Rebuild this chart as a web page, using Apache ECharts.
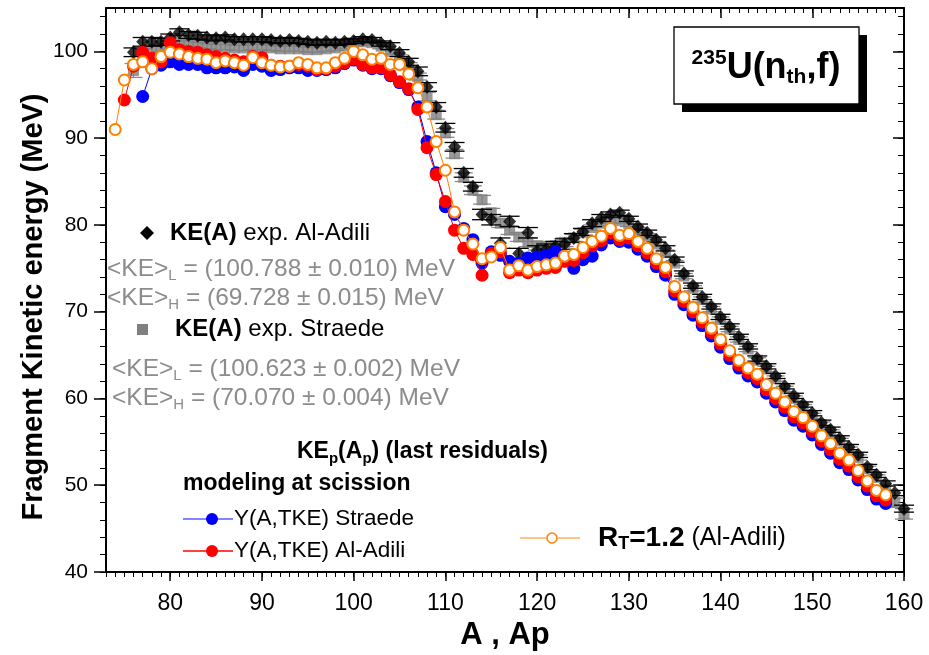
<!DOCTYPE html>
<html><head><meta charset="utf-8">
<script src="https://cdn.jsdelivr.net/npm/echarts@6/dist/echarts.min.js"></script>
<style>html,body{margin:0;padding:0;background:#fff}#c{width:929px;height:655px}</style>
</head><body><div id="c"></div>
<script>
// ---- data ----
const startAl = 76;   // first mass number of Al-Adili exp. KE(A)
const keAlAdili = [99.9,101.1,101.1,101.1,101.6,102.2,101.9,101.8,
 101.6,101.5,101.6,101.4,101.4,101.4,101.4,101.3,101.2,101.3,
 101.2,101.1,101.0,101.1,101.0,101.1,101.2,101.4,101.3,100.9,
 100.6,99.8,98.8,97.7,95.9,93.6,91.2,89.0,86.0,84.4,
 81.2,80.6,77.9,80.4,76.7,79.1,77.0,77.2,77.5,77.8,
 78.5,79.2,80.2,80.8,81.2,81.4,80.7,79.8,79.1,78.3,
 77.3,76.0,74.4,73.0,71.7,70.6,69.4,68.3,67.1,66.0,
 64.6,63.7,62.6,61.4,60.3,59.3,58.3,57.2,56.4,55.4,
 54.4,53.5,52.1,51.2,50.2,49.1,47.3];
const errAlAdili = [0.5,0.5,0.5,0.4,0.4,0.4,0.4,0.4,
 0.3,0.3,0.3,0.3,0.3,0.3,0.3,0.3,0.3,0.3,
 0.3,0.3,0.3,0.3,0.3,0.3,0.3,0.3,0.3,0.3,
 0.4,0.4,0.4,0.5,0.5,0.5,0.5,0.5,0.5,0.5,
 0.6,0.6,0.6,0.6,0.6,0.6,0.6,0.6,0.6,0.6,
 0.5,0.4,0.4,0.4,0.3,0.3,0.3,0.3,0.3,0.3,
 0.3,0.3,0.3,0.3,0.3,0.3,0.3,0.3,0.3,0.3,
 0.3,0.3,0.3,0.3,0.3,0.3,0.3,0.3,0.3,0.3,
 0.3,0.3,0.3,0.3,0.3,0.3,0.4];
const startSt = 76;   // Straede exp. KE(A)
const keStraede = [97.8,99.6,100.2,100.4,100.6,101.0,100.9,100.7,
 100.6,100.5,100.5,100.4,100.4,100.5,100.5,100.4,100.3,100.3,
 100.3,100.2,100.2,100.3,100.4,100.6,100.9,101.1,101.0,100.6,
 100.0,99.3,98.3,97.1,94.8,92.7,90.6,88.2,85.5,84.0,
 82.9,81.4,80.2,79.4,78.6,78.0,77.6,77.4,77.6,78.0,
 78.5,79.1,79.7,80.2,80.5,80.5,80.1,79.4,78.7,77.8,
 76.8,75.6,74.1,72.7,71.4,70.3,69.1,68.0,66.8,65.7,
 64.4,63.4,62.3,61.1,60.0,59.0,58.0,57.0,56.1,55.1,
 54.1,53.2,51.9,50.9,49.6,48.0,46.7];
const errStraede = [0.8,0.7,0.6,0.4,0.3,0.3,0.3,0.3,
 0.3,0.3,0.3,0.3,0.3,0.3,0.3,0.3,0.3,0.3,
 0.3,0.3,0.3,0.3,0.3,0.3,0.3,0.3,0.3,0.3,
 0.3,0.3,0.4,0.4,0.5,0.5,0.5,0.5,0.5,0.5,
 0.5,0.5,0.5,0.5,0.5,0.5,0.5,0.5,0.5,0.5,
 0.4,0.4,0.3,0.3,0.3,0.3,0.3,0.3,0.3,0.3,
 0.3,0.3,0.3,0.3,0.3,0.3,0.3,0.3,0.3,0.3,
 0.3,0.3,0.3,0.3,0.3,0.3,0.3,0.3,0.3,0.3,
 0.3,0.3,0.3,0.3,0.4,0.5,0.6];
const startBlue = 77;  // Y(A,TKE) Straede
const kepBlue = [94.8,98.0,98.4,98.8,98.5,98.5,98.5,
 98.1,98.1,98.1,98.2,97.8,98.5,98.3,97.8,97.9,98.1,
 98.1,97.8,97.8,97.9,98.1,98.6,99.0,98.4,98.0,98.0,
 97.2,96.4,95.6,93.6,89.6,86.0,82.1,81.2,79.6,78.3,
 75.6,76.9,76.5,75.8,75.6,76.2,76.3,76.5,76.9,76.3,
 75.0,76.0,76.4,77.7,78.5,78.1,78.0,77.2,76.4,75.2,
 74.2,72.0,70.8,69.6,68.4,67.2,65.9,64.6,63.5,62.6,
 61.9,60.6,59.6,58.6,57.5,56.8,55.8,54.7,53.7,52.6,
 51.8,50.6,49.5,48.4,47.9];
const startRed = 75;   // Y(A,TKE) Al-Adili
const kepRed = [94.4,98.3,99.9,99.2,98.8,101.0,100.2,100.0,99.9,
 99.6,99.4,99.2,99.0,98.8,99.4,99.3,98.4,98.3,98.3,
 98.5,98.3,97.9,98.0,98.3,98.7,99.1,98.5,98.1,98.1,
 97.3,96.5,95.7,93.3,88.9,85.8,82.7,79.4,77.3,76.6,
 74.2,76.7,76.9,74.5,74.8,74.5,74.8,75.0,75.1,75.8,
 75.9,76.8,77.6,78.2,79.1,78.3,78.5,77.6,76.8,75.6,
 74.6,72.4,71.2,70.0,68.8,67.6,66.3,65.0,63.9,63.0,
 62.3,61.0,60.0,59.0,57.9,57.2,56.2,55.1,54.1,53.0,
 52.2,51.0,49.9,48.8,48.3];
const startOrange = 74; // R_T = 1.2 (Al-Adili)
const kepOrange = [91.0,96.7,98.5,98.8,98.0,99.4,99.9,99.7,99.4,99.2,
 99.1,98.7,98.9,98.7,98.4,99.3,98.7,98.4,98.2,98.3,
 98.7,98.5,98.1,98.1,98.7,99.2,100.0,99.6,99.1,99.2,
 98.5,98.5,97.4,95.8,93.6,89.6,86.3,81.5,79.4,77.8,
 76.1,76.3,77.4,74.8,75.3,74.8,75.2,75.4,75.6,76.4,
 76.6,77.4,78.1,78.7,79.6,78.8,79.0,78.1,77.3,76.1,
 75.1,72.9,71.7,70.5,69.3,68.1,66.8,65.5,64.4,63.5,
 62.8,61.6,60.6,59.6,58.5,57.8,56.8,55.7,54.8,53.7,
 52.9,51.7,50.5,49.4,48.9];
const xTicks = [80,90,100,110,120,130,140,150,160];
const yTicks = [40,50,60,70,80,90,100];
const xRange = [73,160];
const yRange = [40,105];

// ---- helpers ----
function pairs(start, vals){ return vals.map((v,i)=>[start+i, v]); }
function triples(start, vals, errs){ return vals.map((v,i)=>[start+i, v, errs[i]]); }
const yMinor = []; for (let v=yRange[0]; v<yRange[1]; v+=2) yMinor.push(v);

const FONT = '"Liberation Sans", Arial, Helvetica, sans-serif';

function errItem(color, half){
  return function(params, api){
    const x = api.value(0), y = api.value(1), e = api.value(2);
    const hi = api.coord([x, y+e]), lo = api.coord([x, y-e]);
    const st = {stroke: color, lineWidth: 1.3};
    return {type:'group', children:[
      {type:'line', shape:{x1:hi[0],y1:hi[1],x2:lo[0],y2:lo[1]}, style:st},
      {type:'line', shape:{x1:hi[0]-half,y1:hi[1],x2:hi[0]+half,y2:hi[1]}, style:st},
      {type:'line', shape:{x1:lo[0]-half,y1:lo[1],x2:lo[0]+half,y2:lo[1]}, style:st}
    ]};
  };
}

const chart = echarts.init(document.getElementById('c'), null, {renderer:'canvas'});
const axisLineStyle = {color:'#000', width:2};
const baseX = {type:'value', min:xRange[0], max:xRange[1], splitLine:{show:false}, gridIndex:0};
const baseY = {type:'value', min:yRange[0], max:yRange[1], splitLine:{show:false}, gridIndex:0};
const GRAY = '#8c8c8c';
const kestyle = {a:{fontFamily:FONT, fontSize:24.5, fill:GRAY, lineHeight:28}, s:{fontFamily:FONT, fontSize:15, fill:GRAY, lineHeight:13, verticalAlign:'bottom'}};
const expstyle = {b:{fontFamily:FONT, fontWeight:'bold', fontSize:24, fill:'#000'}, n:{fontFamily:FONT, fontSize:24, fill:'#000'}};

const option = {
  animation:false,
  backgroundColor:'#fff',
  grid:{left:106, right:25, top:8, bottom:83, containLabel:false, outerBoundsMode:'none'},
  xAxis:[
    Object.assign({}, baseX, {position:'bottom', axisLine:{show:true, onZero:false, lineStyle:axisLineStyle},
      axisTick:{show:true, inside:false, length:9, customValues:xTicks, lineStyle:{color:'#000', width:1.5}},
      axisLabel:{show:true, customValues:xTicks, margin:20, color:'#000', fontFamily:FONT, fontSize:23},
      name:'A , Ap', nameLocation:'middle', nameGap:48,
      nameTextStyle:{color:'#000', fontFamily:FONT, fontWeight:'bold', fontSize:31}}),
    Object.assign({}, baseX, {position:'bottom', interval:1, axisLine:{show:false, onZero:false},
      axisTick:{show:true, inside:false, length:5, lineStyle:{color:'#000', width:1}}, axisLabel:{show:false}}),
    Object.assign({}, baseX, {position:'top', axisLine:{show:true, onZero:false, lineStyle:axisLineStyle},
      axisTick:{show:true, inside:true, length:10, customValues:xTicks, lineStyle:{color:'#000', width:1.5}},
      axisLabel:{show:false}}),
    Object.assign({}, baseX, {position:'top', interval:1, axisLine:{show:false, onZero:false},
      axisTick:{show:true, inside:true, length:5, lineStyle:{color:'#000', width:1}}, axisLabel:{show:false}})
  ],
  yAxis:[
    Object.assign({}, baseY, {position:'left', axisLine:{show:true, onZero:false, lineStyle:axisLineStyle},
      axisTick:{show:true, inside:false, length:12, customValues:yTicks, lineStyle:{color:'#000', width:1.5}},
      axisLabel:{show:true, customValues:yTicks, margin:18, color:'#000', fontFamily:FONT, fontSize:21}}),
    Object.assign({}, baseY, {position:'left', axisLine:{show:false, onZero:false},
      axisTick:{show:true, inside:false, length:6, customValues:yMinor, lineStyle:{color:'#000', width:1}}, axisLabel:{show:false}}),
    Object.assign({}, baseY, {position:'right', axisLine:{show:true, onZero:false, lineStyle:axisLineStyle},
      axisTick:{show:true, inside:true, length:11, customValues:yTicks, lineStyle:{color:'#000', width:1.5}},
      axisLabel:{show:false}}),
    Object.assign({}, baseY, {position:'right', axisLine:{show:false, onZero:false},
      axisTick:{show:true, inside:true, length:6, customValues:yMinor, lineStyle:{color:'#000', width:1}}, axisLabel:{show:false}})
  ],
  series:[
    {type:'custom', name:'errSt', xAxisIndex:0, yAxisIndex:0, renderItem:errItem('#8a8a8a', 9),
      data:triples(startSt, keStraede, errStraede), z:2, silent:true},
    {type:'scatter', name:'KE(A) exp. Straede', xAxisIndex:0, yAxisIndex:0, symbol:'rect', symbolSize:11,
      itemStyle:{color:'#808080'}, data:pairs(startSt, keStraede), z:2},
    {type:'custom', name:'errAl', xAxisIndex:0, yAxisIndex:0, renderItem:errItem('#000', 10),
      data:triples(startAl, keAlAdili, errAlAdili), z:3, silent:true},
    {type:'scatter', name:'KE(A) exp. Al-Adili', xAxisIndex:0, yAxisIndex:0, symbol:'diamond', symbolSize:[13,14],
      itemStyle:{color:'#000'}, data:pairs(startAl, keAlAdili), z:3},
    {type:'line', name:'Y(A,TKE) Straede', xAxisIndex:0, yAxisIndex:0, symbol:'circle', symbolSize:13, showAllSymbol:true,
      lineStyle:{color:'#0000ff', width:1}, itemStyle:{color:'#0000ff', borderWidth:0}, data:pairs(startBlue, kepBlue), z:4},
    {type:'line', name:'Y(A,TKE) Al-Adili', xAxisIndex:0, yAxisIndex:0, symbol:'circle', symbolSize:13, showAllSymbol:true,
      lineStyle:{color:'#ff0000', width:1}, itemStyle:{color:'#ff0000', borderWidth:0}, data:pairs(startRed, kepRed), z:5},
    {type:'line', name:'R_T=1.2', xAxisIndex:0, yAxisIndex:0, symbol:'circle', symbolSize:11, showAllSymbol:true,
      lineStyle:{color:'#ff8000', width:1}, itemStyle:{color:'#fff', borderColor:'#ff8000', borderWidth:2}, data:pairs(startOrange, kepOrange), z:6}
  ],
  graphic:[
    // y-axis title
    {type:'text', x:34, y:307, rotation:Math.PI/2, z:10, style:{text:'Fragment Kinetic energy (MeV)', align:'center', verticalAlign:'middle',
      fontFamily:FONT, fontWeight:'bold', fontSize:29, fill:'#000'}},
    // 235U(nth,f) box with shadow
    {type:'rect', shape:{x:682, y:35, width:185, height:77}, style:{fill:'#000'}, z:10},
    {type:'rect', shape:{x:674, y:27, width:185, height:77}, style:{fill:'#fff', stroke:'#000', lineWidth:1.3}, z:11},
    {type:'text', x:766, y:68, z:12, style:{text:'{sup|235}{b|U(n}{sub|th}{b|,f)}', align:'center', verticalAlign:'middle',
      rich:{b:{fontFamily:FONT, fontWeight:'bold', fontSize:36, lineHeight:40},
            sup:{fontFamily:FONT, fontWeight:'bold', fontSize:21, lineHeight:21, verticalAlign:'top'},
            sub:{fontFamily:FONT, fontWeight:'bold', fontSize:21, lineHeight:21, verticalAlign:'bottom'}}}},
    // Al-Adili exp legend
    {type:'polygon', shape:{points:[[147,226],[154,233],[147,240],[140,233]]}, style:{fill:'#000'}, z:10},
    {type:'text', x:170, y:233, z:10, style:{text:'{b|KE(A)}{n| exp. Al-Adili}', verticalAlign:'middle', rich:expstyle}},
    {type:'text', x:107, y:269, z:10, style:{text:'{a|<KE>}{s|L}{a| = (100.788 ± 0.010) MeV}', verticalAlign:'middle', rich:kestyle}},
    {type:'text', x:107, y:298, z:10, style:{text:'{a|<KE>}{s|H}{a| = (69.728 ± 0.015) MeV}', verticalAlign:'middle', rich:kestyle}},
    // Straede exp legend
    {type:'rect', shape:{x:137, y:324, width:11, height:11}, style:{fill:'#808080'}, z:10},
    {type:'text', x:175, y:329, z:10, style:{text:'{b|KE(A)}{n| exp. Straede}', verticalAlign:'middle', rich:expstyle}},
    {type:'text', x:112, y:369, z:10, style:{text:'{a|<KE>}{s|L}{a| = (100.623 ± 0.002) MeV}', verticalAlign:'middle', rich:kestyle}},
    {type:'text', x:112, y:398, z:10, style:{text:'{a|<KE>}{s|H}{a| = (70.070 ± 0.004) MeV}', verticalAlign:'middle', rich:kestyle}},
    // model legend
    {type:'text', x:297, y:452, z:10, style:{text:'{b|KE}{s|p}{b|(A}{s|p}{b|) (last residuals)}', verticalAlign:'middle',
      rich:{b:{fontFamily:FONT, fontWeight:'bold', fontSize:23, fill:'#000', lineHeight:28}, s:{fontFamily:FONT, fontWeight:'bold', fontSize:15, fill:'#000', lineHeight:13, verticalAlign:'bottom'}}}},
    {type:'text', x:183, y:484, z:10, style:{text:'modeling at scission', verticalAlign:'middle', fontFamily:FONT, fontWeight:'bold', fontSize:23, fill:'#000'}},
    {type:'line', shape:{x1:183, y1:519, x2:233, y2:519}, style:{stroke:'#5c5cff', lineWidth:1.3}, z:10},
    {type:'circle', shape:{cx:212, cy:519, r:6}, style:{fill:'#0000ff'}, z:10},
    {type:'text', x:234, y:519, z:10, style:{text:'Y(A,TKE) Straede', verticalAlign:'middle', fontFamily:FONT, fontSize:22.5, fill:'#000'}},
    {type:'line', shape:{x1:183, y1:551, x2:233, y2:551}, style:{stroke:'#ff0000', lineWidth:1.3}, z:10},
    {type:'circle', shape:{cx:212, cy:551, r:6}, style:{fill:'#ff0000'}, z:10},
    {type:'text', x:234, y:551, z:10, style:{text:'Y(A,TKE) Al-Adili', verticalAlign:'middle', fontFamily:FONT, fontSize:22.5, fill:'#000'}},
    {type:'line', shape:{x1:520, y1:538, x2:580, y2:538}, style:{stroke:'#ffb060', lineWidth:1.5}, z:10},
    {type:'circle', shape:{cx:552, cy:538, r:5}, style:{fill:'#fff', stroke:'#ff8000', lineWidth:1.5}, z:11},
    {type:'text', x:598, y:538, z:10, style:{text:'{b|R}{s|T}{b|=1.2}{n| (Al-Adili)}', verticalAlign:'middle',
      rich:{b:{fontFamily:FONT, fontWeight:'bold', fontSize:28, fill:'#000', lineHeight:30}, s:{fontFamily:FONT, fontWeight:'bold', fontSize:18, fill:'#000', lineHeight:15, verticalAlign:'bottom'},
            n:{fontFamily:FONT, fontSize:25, fill:'#000', lineHeight:30}}}}
  ]
};
chart.setOption(option);
</script>
</body></html>
